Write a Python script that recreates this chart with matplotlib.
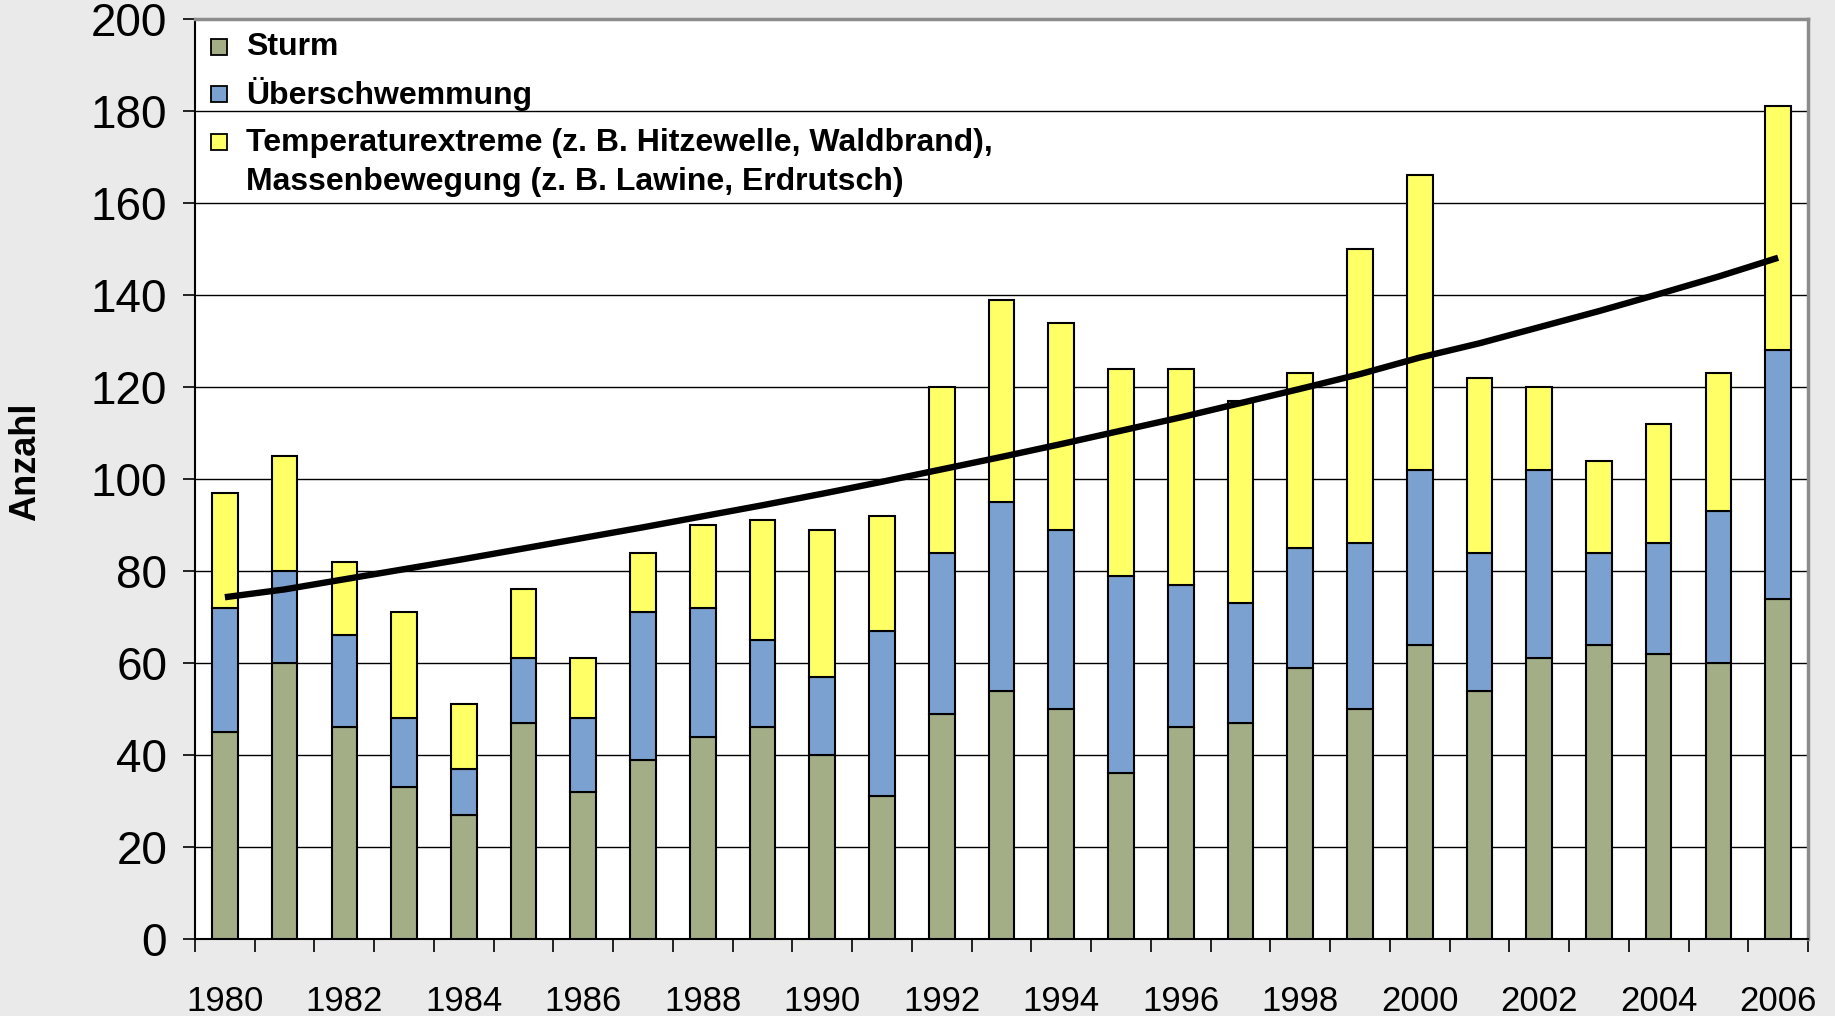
import matplotlib
matplotlib.use("Agg")
import matplotlib.pyplot as plt
from matplotlib.patches import Rectangle
import numpy as np

plt.rcParams["font.family"] = ["Liberation Sans", "DejaVu Sans"]

years = list(range(1980, 2007))
# stacked components (cumulative tops -> parts)
sturm = [45, 60, 46, 33, 27, 47, 32, 39, 44, 46, 40, 31, 49, 54, 50, 36, 46, 47,
         59, 50, 64, 54, 61, 64, 62, 60, 74]
flut_top = [72, 80, 66, 48, 37, 61, 48, 71, 72, 65, 57, 67, 84, 95, 89, 79, 77, 73,
            85, 86, 102, 84, 102, 84, 86, 93, 128]
total = [97, 105, 82, 71, 51, 76, 61, 84, 90, 91, 89, 92, 120, 139, 134, 124, 124, 117,
         123, 150, 166, 122, 120, 104, 112, 123, 181]
trend = [74.3, 76.0, 78.2, 80.4, 82.6, 84.9, 87.2, 89.5, 91.9, 94.3, 96.8, 99.4, 102.1,
         104.8, 107.6, 110.5, 113.4, 116.5, 119.6, 122.8, 126.4, 129.5, 133.0, 136.5,
         140.2, 144.0, 148.1]

labels = ["Sturm", "Überschwemmung",
          "Temperaturextreme (z. B. Hitzewelle, Waldbrand),\nMassenbewegung (z. B. Lawine, Erdrutsch)"]
colors = ["#A3AD86", "#7BA1D0", "#FFFF66"]

flut = np.array(flut_top) - np.array(sturm)
temp = np.array(total) - np.array(flut_top)

fig = plt.figure(figsize=(18.35, 10.16), dpi=100, facecolor="#EAEAEA")
ax = fig.add_axes([195 / 1835, 77 / 1016, 1613 / 1835, 920 / 1016])
ax.set_facecolor("white")

x = np.arange(len(years))
w = 0.43
ax.bar(x, sturm, w, color=colors[0], edgecolor="black", linewidth=1.5, zorder=3)
ax.bar(x, flut, w, bottom=sturm, color=colors[1], edgecolor="black", linewidth=1.5, zorder=3)
ax.bar(x, temp, w, bottom=flut_top, color=colors[2], edgecolor="black", linewidth=1.5, zorder=3)
ax.plot(x, trend, color="black", lw=4.6, zorder=4, solid_capstyle="butt")

ax.set_xlim(-0.5, len(years) - 0.5)
ax.set_ylim(0, 200)
ax.set_yticks(range(0, 201, 20))
ax.tick_params(axis="y", labelsize=33, length=9, width=1.2, pad=11)
ax.set_xticks(x[::2])
ax.set_xticklabels([str(y) for y in years[::2]])
ax.set_xticks(np.arange(-0.5, len(years)), minor=True)
ax.tick_params(axis="x", which="major", length=0, labelsize=25, pad=33)
ax.tick_params(axis="x", which="minor", length=9, width=1.2)

for yv in range(20, 200, 20):
    ax.axhline(yv, color="black", lw=1.0, zorder=1)

for s in ["left", "bottom"]:
    ax.spines[s].set_color("black")
    ax.spines[s].set_linewidth(1.5)
for s in ["top", "right"]:
    ax.spines[s].set_color("#8C8C8C")
    ax.spines[s].set_linewidth(2.5)

fig.text(26 / 1835, 1 - 462 / 1016, "Anzahl", rotation=90, fontsize=26,
         fontweight="bold", ha="center", va="center")

# legend, drawn by hand so the yellow box sits on the first text line
rows_y = [47, 94, 142]
for lab, col, yy in zip(labels, colors, rows_y):
    fig.patches.append(Rectangle((211 / 1835, 1 - (yy + 8) / 1016), 16 / 1835, 16 / 1016,
                                 transform=fig.transFigure, facecolor=col,
                                 edgecolor="black", lw=1.3))
    fig.text(246 / 1835, 1 - yy / 1016, lab, fontsize=23, fontweight="bold",
             ha="left", va="top" if "\n" in lab else "center", linespacing=1.38)
# shift multi-line text so first line is centred on the box
fig.texts[-1].set_y(1 - (142 - 14) / 1016)

fig.savefig("out.png", dpi=100, facecolor=fig.get_facecolor())
